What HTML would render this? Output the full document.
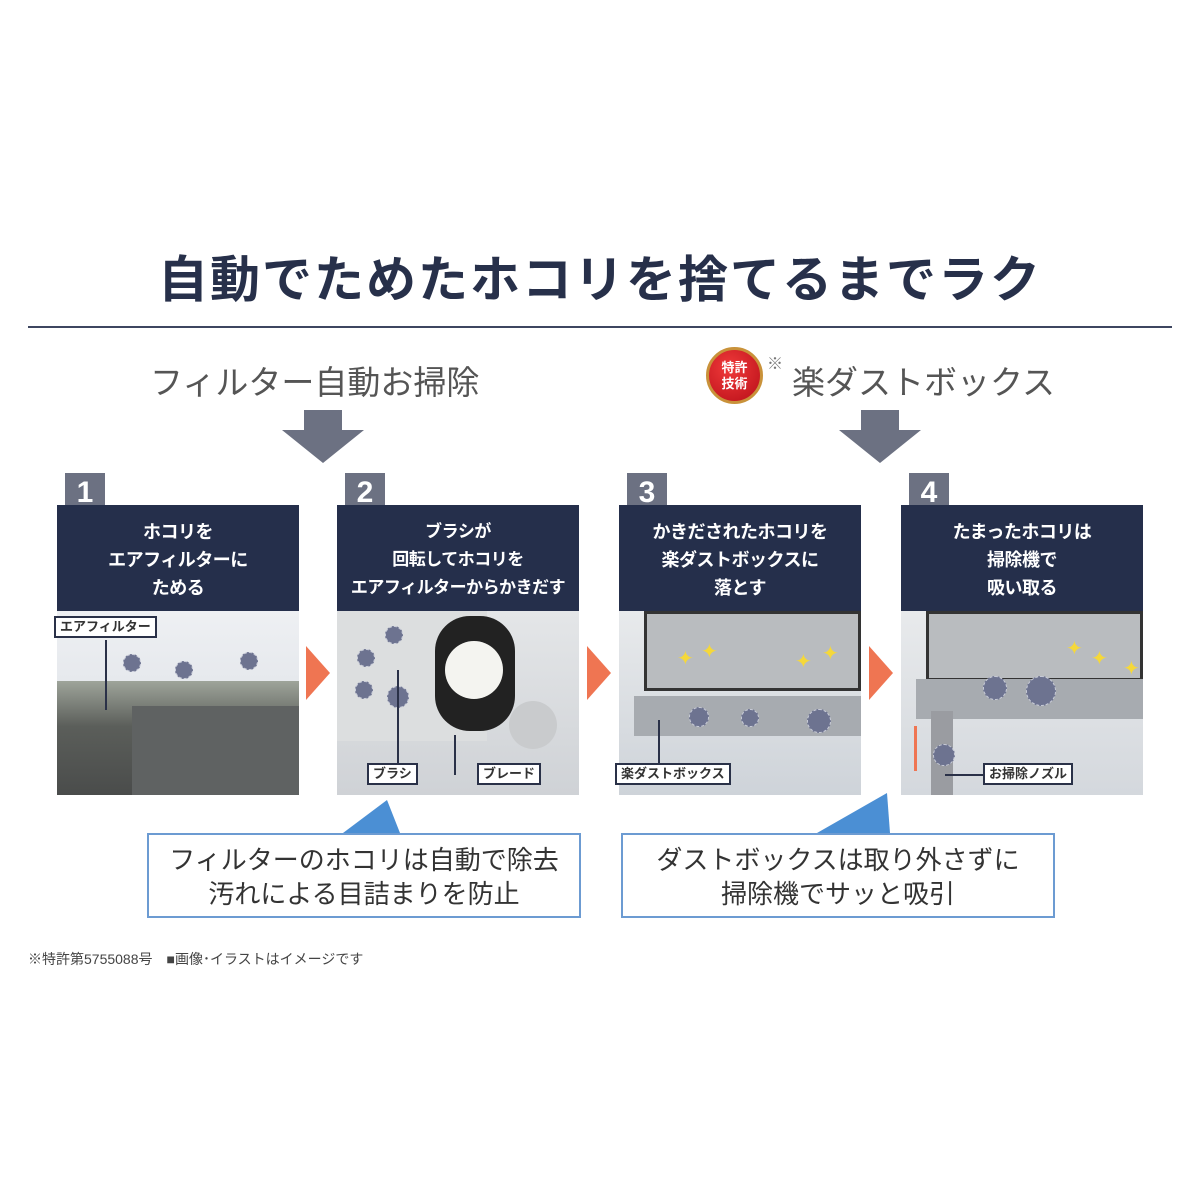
<!DOCTYPE html>
<html><head><meta charset="utf-8"><style>
*{margin:0;padding:0;box-sizing:border-box}
body{width:1200px;height:1200px;background:#fff;position:relative;overflow:hidden;font-family:"Liberation Sans","Noto Sans CJK JP",sans-serif}
.a{position:absolute}
.title{left:0;width:1200px;top:240px;text-align:center;font-size:50px;font-weight:bold;color:#27304a;letter-spacing:2px}
.sub{font-size:33px;color:#555;top:356px}
.hdr{background:#252f4b;color:#fff;font-size:18px;line-height:28px;text-align:center;font-weight:bold;padding-top:13px;height:106px;width:242px;top:505px;letter-spacing:-0.5px;white-space:nowrap}
.num{background:#6c7182;color:#fff;font-size:30px;width:40px;height:40px;top:473px;text-align:center;line-height:40px;font-weight:bold}
.img{top:611px;width:242px;height:184px;overflow:hidden;background:linear-gradient(180deg,#eef0f3,#d9dde3)}
.lbl{background:#fff;border:2px solid #2a3148;font-size:13px;font-weight:bold;color:#333;padding:0 4px;height:22px;line-height:18px}
.dot{border-radius:50%;background:#6d7390;border:1px dashed #c8cbd8}
.tri{width:0;height:0;border-top:27px solid transparent;border-bottom:27px solid transparent;border-left:24px solid #ef7552}
.box{border:2px solid #6c9bd2;background:#fff;font-size:26px;color:#333;text-align:center;line-height:34px;padding-top:8px;height:85px}
.sp{color:#f5d83a;font-size:20px}
</style></head><body>
<div class="a title">自動でためたホコリを捨てるまでラク</div>
<div class="a" style="left:28px;top:326px;width:1144px;height:2px;background:#3d4660"></div>
<div class="a sub" style="left:150px">フィルター自動お掃除</div>
<div class="a" style="left:706px;top:347px;width:57px;height:57px;border-radius:50%;background:radial-gradient(circle at 40% 35%,#f03a3a,#b80e18);border:3px solid #c9923a;color:#fff;font-size:13px;font-weight:bold;text-align:center;line-height:16px;padding-top:10px">特許<br>技術</div>
<div class="a" style="left:767px;top:350px;font-size:16px;color:#777">※</div>
<div class="a sub" style="left:792px">楽ダストボックス</div>
<svg class="a" style="left:0;top:0" width="1200" height="1200">
<polygon points="304,410 342,410 342,430 364,430 323,463 282,430 304,430" fill="#6c7182"/>
<polygon points="861,410 899,410 899,430 921,430 880,463 839,430 861,430" fill="#6c7182"/>
<polygon points="343,833 387,800 400,833" fill="#4b8fd4"/>
<polygon points="817,833 887,793 890,833" fill="#4b8fd4"/>
</svg>
<!-- panel 1 -->
<div class="a img" style="left:57px">
 <div class="a" style="left:0;top:70px;width:242px;height:114px;background:linear-gradient(180deg,#9ea49a,#5b5e5a 40%,#4a4c4b)"></div>
 <div class="a" style="left:75px;top:95px;width:167px;height:89px;background:#5f6262"></div>
 <div class="a dot" style="left:66px;top:43px;width:18px;height:18px"></div>
 <div class="a dot" style="left:118px;top:50px;width:18px;height:18px"></div>
 <div class="a dot" style="left:183px;top:41px;width:18px;height:18px"></div>
</div>
<div class="a" style="left:105px;top:640px;width:2px;height:70px;background:#2a3148"></div>
<div class="a lbl" style="left:54px;top:616px">エアフィルター</div>
<div class="a num" style="left:65px">1</div>
<div class="a hdr" style="left:57px">ホコリを<br>エアフィルターに<br>ためる</div>
<!-- panel 2 -->
<div class="a img" style="left:337px;background:linear-gradient(180deg,#e4e6e8,#cfd2d6)">
 <div class="a" style="left:0;top:0;width:150px;height:130px;background:#dcdedf"></div>
 <div class="a" style="left:98px;top:5px;width:80px;height:115px;border-radius:35px;background:#222"></div>
 <div class="a" style="left:108px;top:30px;width:58px;height:58px;border-radius:50%;background:#f4f4f0"></div>
 <div class="a" style="left:172px;top:90px;width:48px;height:48px;border-radius:50%;background:#c9cbcd"></div>
 <div class="a dot" style="left:48px;top:15px;width:18px;height:18px"></div>
 <div class="a dot" style="left:20px;top:38px;width:18px;height:18px"></div>
 <div class="a dot" style="left:18px;top:70px;width:18px;height:18px"></div>
 <div class="a dot" style="left:50px;top:75px;width:22px;height:22px"></div>
</div>
<div class="a" style="left:397px;top:670px;width:2px;height:95px;background:#2a3148"></div>
<div class="a" style="left:454px;top:735px;width:2px;height:40px;background:#2a3148"></div>
<div class="a lbl" style="left:367px;top:763px">ブラシ</div>
<div class="a lbl" style="left:477px;top:763px">ブレード</div>
<div class="a num" style="left:345px">2</div>
<div class="a hdr" style="left:337px;font-size:17px">ブラシが<br>回転してホコリを<br>エアフィルターからかきだす</div>
<!-- panel 3 -->
<div class="a img" style="left:619px;background:linear-gradient(180deg,#e8eaec,#ced3d9)">
 <div class="a" style="left:25px;top:0;width:217px;height:80px;background:#b9bcbf;border:3px solid #333"></div>
 <div class="a" style="left:15px;top:85px;width:227px;height:40px;background:#a7abb0"></div>
 <div class="a dot" style="left:70px;top:96px;width:20px;height:20px"></div>
 <div class="a dot" style="left:122px;top:98px;width:18px;height:18px"></div>
 <div class="a dot" style="left:188px;top:98px;width:24px;height:24px"></div>
 <div class="a sp" style="left:58px;top:35px">✦</div><div class="a sp" style="left:82px;top:28px">✦</div><div class="a sp" style="left:176px;top:38px">✦</div><div class="a sp" style="left:203px;top:30px">✦</div>
</div>
<div class="a" style="left:658px;top:720px;width:2px;height:45px;background:#2a3148"></div>
<div class="a lbl" style="left:615px;top:763px">楽ダストボックス</div>
<div class="a num" style="left:627px">3</div>
<div class="a hdr" style="left:619px">かきだされたホコリを<br>楽ダストボックスに<br>落とす</div>
<!-- panel 4 -->
<div class="a img" style="left:901px;background:linear-gradient(180deg,#e8eaec,#d4d8dd)">
 <div class="a" style="left:25px;top:0;width:217px;height:70px;background:#b9bcbf;border:3px solid #333"></div>
 <div class="a" style="left:15px;top:68px;width:227px;height:40px;background:#a7abb0"></div>
 <div class="a" style="left:30px;top:100px;width:22px;height:84px;background:#9a9ca1"></div>
 <div class="a dot" style="left:82px;top:65px;width:24px;height:24px"></div>
 <div class="a dot" style="left:125px;top:65px;width:30px;height:30px"></div>
 <div class="a dot" style="left:32px;top:133px;width:22px;height:22px"></div>
 <div class="a sp" style="left:165px;top:25px">✦</div><div class="a sp" style="left:190px;top:35px">✦</div><div class="a sp" style="left:222px;top:45px">✦</div>
 <div class="a" style="left:13px;top:115px;width:3px;height:45px;background:#ef7552"></div>
</div>
<div class="a" style="left:945px;top:774px;width:40px;height:2px;background:#2a3148"></div>
<div class="a lbl" style="left:983px;top:763px">お掃除ノズル</div>
<div class="a num" style="left:909px">4</div>
<div class="a hdr" style="left:901px">たまったホコリは<br>掃除機で<br>吸い取る</div>
<!-- orange arrows -->
<div class="a tri" style="left:306px;top:646px"></div>
<div class="a tri" style="left:587px;top:646px"></div>
<div class="a tri" style="left:869px;top:646px"></div>
<div class="a box" style="left:147px;top:833px;width:434px">フィルターのホコリは自動で除去<br>汚れによる目詰まりを防止</div>
<div class="a box" style="left:621px;top:833px;width:434px">ダストボックスは取り外さずに<br>掃除機でサッと吸引</div>
<div class="a" style="left:28px;top:949px;font-size:14px;color:#444">※特許第5755088号　■画像･イラストはイメージです</div>
</body></html>
